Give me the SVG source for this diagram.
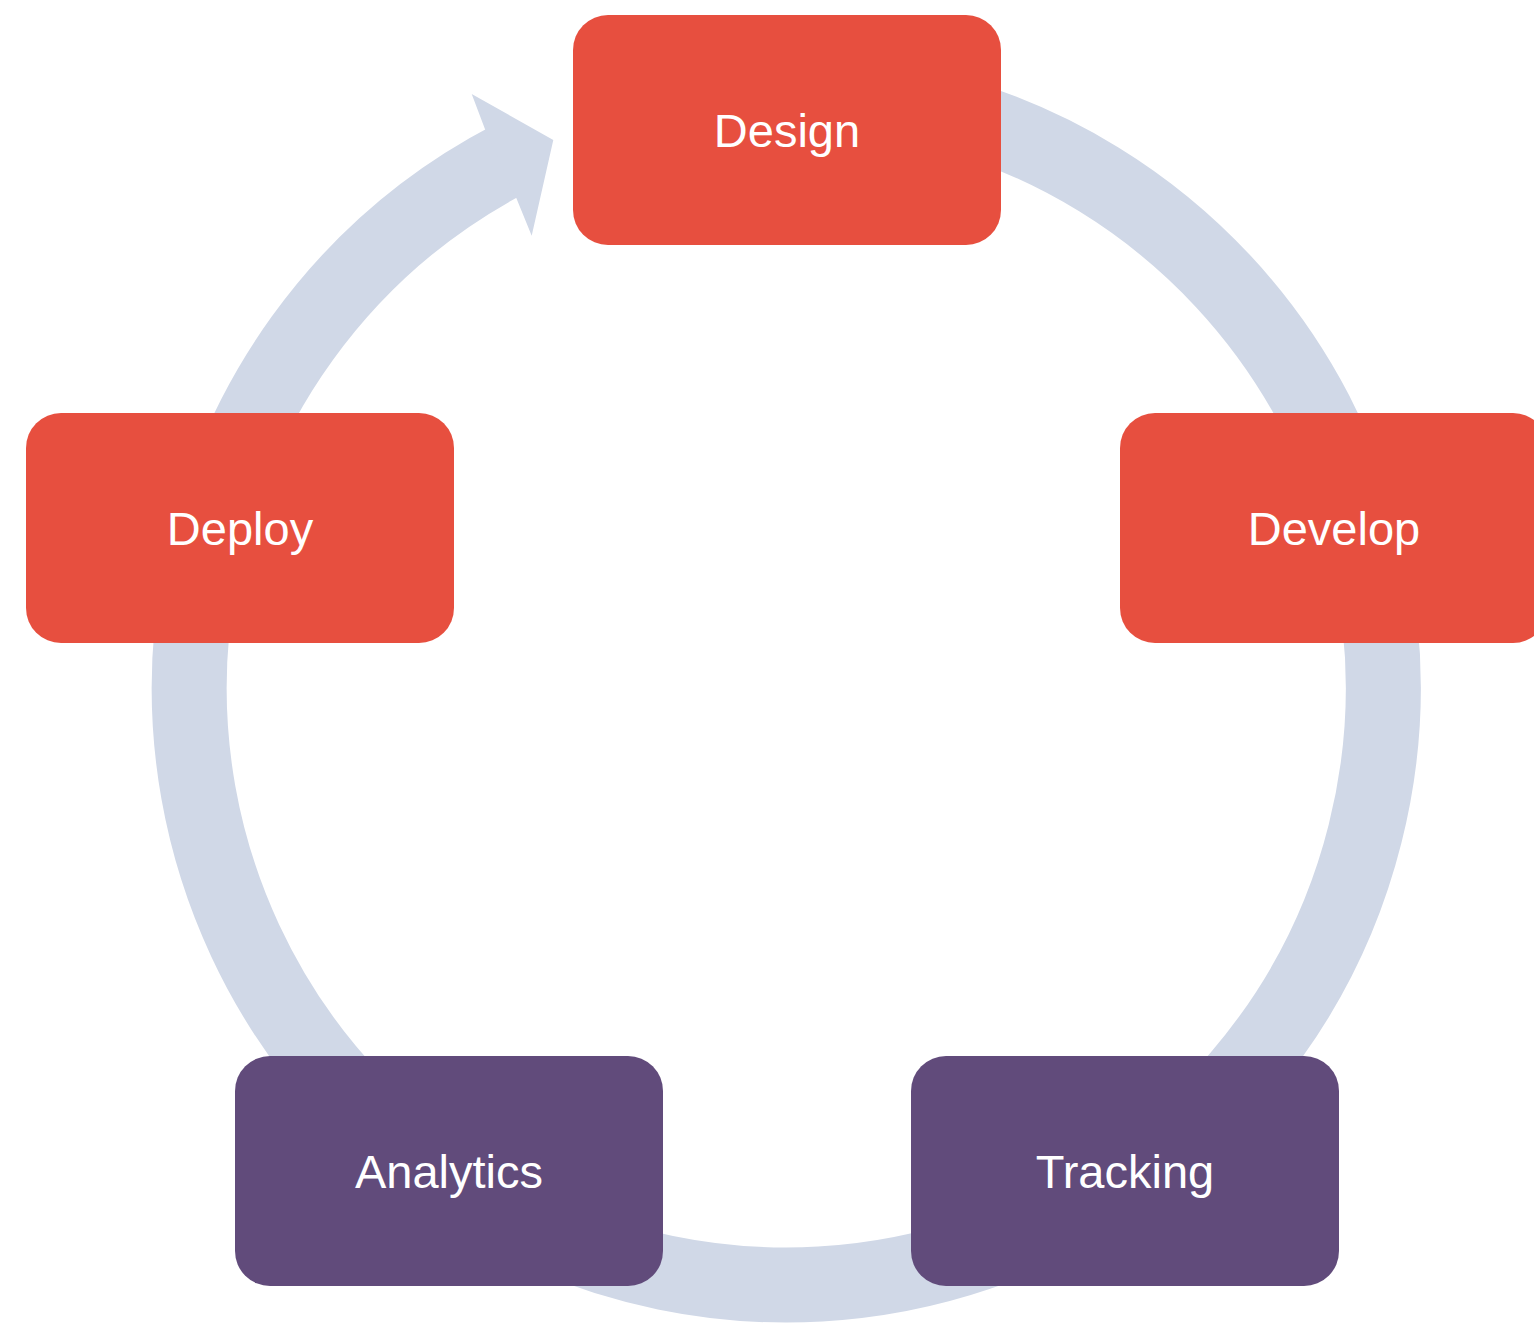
<svg xmlns="http://www.w3.org/2000/svg" width="1534" height="1323" viewBox="0 0 1534 1323">
<style>
.ring{fill:none;stroke:#d0d8e7;stroke-width:75}
.head{fill:#d0d8e7}
.red{fill:#e74f3f}
.purple{fill:#614b7b}
.lbl{font-family:"Liberation Sans",Arial,sans-serif;font-size:47px;fill:#ffffff;text-anchor:middle}
</style>
<rect width="1534" height="1323" fill="#ffffff"/>
<g id="connectors">
<path class="ring" d="M682.3,100.1 A597,597 0 1 1 510.4,158.5"/>
<polygon class="head" points="471.7,94 553.3,140 531.7,235.7 516.5,198.5 485.5,130.5"/>
</g>
<g id="node-design"><rect class="red" x="573" y="15" width="428" height="230" rx="35"/><text class="lbl" x="787" y="147">Design</text></g>
<g id="node-develop"><rect class="red" x="1120" y="413" width="428" height="230" rx="35"/><text class="lbl" x="1334" y="545">Develop</text></g>
<g id="node-tracking"><rect class="purple" x="911" y="1056" width="428" height="230" rx="35"/><text class="lbl" x="1125" y="1188">Tracking</text></g>
<g id="node-analytics"><rect class="purple" x="235" y="1056" width="428" height="230" rx="35"/><text class="lbl" x="449" y="1188">Analytics</text></g>
<g id="node-deploy"><rect class="red" x="26" y="413" width="428" height="230" rx="35"/><text class="lbl" x="240" y="545">Deploy</text></g>
</svg>
